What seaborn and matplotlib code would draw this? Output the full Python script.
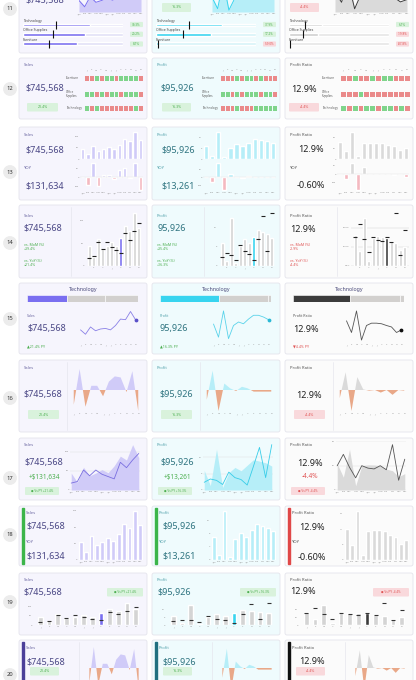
import numpy as np
import pandas as pd
import matplotlib.pyplot as plt
import seaborn as sns
from matplotlib.patches import FancyBboxPatch, Circle, Rectangle
from matplotlib.colors import ListedColormap

# ---- data ----
months = ['Jan', 'Feb', 'Mar', 'Apr', 'May', 'Jun', 'Jul', 'Aug', 'Sep', 'Oct', 'Nov', 'Dec']
letters = ['J', 'F', 'M', 'A', 'M', 'J', 'J', 'A', 'S', 'O', 'N', 'D']
categories = ['Technology', 'Office Supplies', 'Furniture']
hm_rows = ['Furniture', 'Office\nSupplies', 'Technology']
measures = ['Sales', 'Profit', 'Profit Ratio']

value_txt = ['$745,568', '$95,926', '12.9%']
value_plain = ['$745,568', '95,926', '12.9%']
yoy_txt = ['$131,634', '$13,261', '-0.60%']
diff_txt = ['+$131,634', '+$13,261', '-4.4%']
pct_txt = ['21.4%', '16.3%', '-4.4%']
pct_signed = ['+21.4%', '+16.3%', '-4.4%']
mom_txt = ['+39.4%', '+35.4%', '-2.9%']
is_up = [True, True, False]

sales_cy = [44, 20, 59, 37, 44, 53, 45, 63, 88, 78, 118, 84]
sales_py = [18, 22, 52, 37, 52, 41, 35, 29, 72, 58, 78, 95]
profit_cy = [7.1, 1.6, 14.8, 0.9, 6.3, 8.2, 7.0, 9.0, 11.0, 10.5, 9.9, 8.7]
profit_py = [2.8, 4.0, 3.5, 2.0, 6.5, 4.5, 3.8, 1.8, 8.5, 15.5, 4.5, 16.5]
ratio_cy = [16.2, 7.9, 25.1, 2.6, 14.9, 15.5, 15.4, 14.8, 12.9, 11.9, 8.2, 10.1]
ratio_py = [15.0, 22.0, 14.0, 7.5, 15.0, 13.5, 13.0, 15.0, 12.5, 28.0, 6.0, 19.0]

sales_yoy = [0, -22, 40, -25, 8, 8, -4, 22, 28, -3, 40, -35]
profit_yoy = [0, -15, 43, -37, 12, 3, -2, 4, 2, 1, 0, 1]
ratio_yoy = [0, -15, 32, -45, 20, 1, 1, 1, 0, -3, 0, -8]

sales_diff = [-0.7, 1.0, -0.8, 0.2, 0.2, -0.3, 0.4, 0.65, 0.6, -0.1, 0.9, -1.0]
profit_diff = [-0.3, 0.6, -0.65, 0.2, 0.05, -0.03, 0.1, 0.05, -0.05, -0.05, -0.05, -0.05]
ratio_diff = [-0.25, 0.55, -0.65, 0.4, 0.02, -0.02, 0.0, -0.08, 0.0, -0.15, 0.0, -0.02]

sales_tech = [0.35, 0.2, 0.45, 0.32, 0.38, 0.4, 0.35, 0.5, 0.72, 0.7, 0.98, 0.7]
profit_tech = [0.55, 0.1, 1.0, 0.05, 0.5, 0.62, 0.56, 0.72, 0.85, 0.85, 0.79, 0.7]
ratio_tech = [0.66, 0.26, 1.0, 0.0, 0.5, 0.58, 0.58, 0.56, 0.5, 0.45, 0.26, 0.35]
tech_share = [[0.36, 0.34, 0.30], [0.53, 0.44, 0.03], [0.51, 0.45, 0.04]]

cat_cy = [[0.67, 0.62, 0.54], [0.66, 0.55, 0.02], [0.33, 0.29, 0.01]]
cat_py = [[0.33, 0.30, 0.26], [0.33, 0.27, 0.02], [0.16, 0.14, 0.01]]
cat_pct = [['30.3%', '20.2%', '8.1%'], ['37.9%', '17.2%', '-59.0%'], ['6.1%', '-19.8%', '-87.8%']]

hm_sales = [[0, 0, 1, 0, 1, 1, 0, 1, 1, 1, 1, 0],
            [1, 1, 0, 1, 0, 1, 1, 0, 1, 1, 1, 0],
            [1, 0, 1, 0, 0, 0, 0, 0, 0, 0, 1, 0]]
hm_profit = [[0, 0, 0, 1, 0, 1, 1, 0, 1, 0, 0, 0],
             [1, 1, 0, 1, 0, 1, 1, 1, 0, 1, 1, 0],
             [0, 0, 0, 1, 0, 0, 0, 1, 1, 1, 1, 1]]
hm_ratio = [[0, 0, 1, 0, 0, 1, 0, 1, 1, 0, 0, 0],
            [0, 0, 0, 1, 0, 0, 0, 0, 0, 0, 0, 0],
            [1, 0, 1, 0, 1, 1, 0, 1, 1, 0, 1, 0]]

cy = [sales_cy, profit_cy, ratio_cy]
py = [sales_py, profit_py, ratio_py]
yoy = [sales_yoy, profit_yoy, ratio_yoy]
diffs = [sales_diff, profit_diff, ratio_diff]
tech = [sales_tech, profit_tech, ratio_tech]
hms = [hm_sales, hm_profit, hm_ratio]

# ---- styling ----
W, H = 416, 680
CX = [19, 152, 285]
CW = 128
BGC = ['#f6f5fd', '#effbfd', '#fbfbfb']
MAIN = ['#7a6ff0', '#38d4ef', '#3c3c3c']
LIGHT = ['#d0cbf8', '#b6eef8', '#dadada']
LINE = ['#8a80e6', '#5ad3ea', '#555555']
VALC = ['#4a4785', '#2f7480', '#222222']
TITC = ['#6d69a3', '#55a3ad', '#555555']
STRIP18 = ['#3cb54a', '#3cb54a', '#e04848']
STRIP20 = ['#4b3f99', '#1f6f7f', '#111111']
GREEN_T, RED_T = '#4caf50', '#e05555'
GREEN_BG, RED_BG = '#d9f2dc', '#f9d9dc'
GREY = '#d4d4d4'
NEG_BAR = '#f4b9c0'
NEG_AREA = '#e9a888'

sns.set_theme(style='white')
plt.rcParams['font.family'] = ['Noto Sans', 'DejaVu Sans']

fig = plt.figure(figsize=(4.16, 6.8), dpi=100)
fig.patch.set_facecolor('white')
bg = fig.add_axes([0, 0, 1, 1])
bg.set_xlim(0, W)
bg.set_ylim(H, 0)
bg.axis('off')


def sub(x, y, w, h):
    return fig.add_axes([x / W, 1 - (y + h) / H, w / W, h / H])


def clean(ax):
    ax.set_facecolor('none')
    for s in ax.spines.values():
        s.set_visible(False)
    ax.tick_params(length=0, labelsize=1.7, colors='#8a8a8a', pad=0.8)
    ax.set_xlabel('')
    ax.set_ylabel('')


def card(x, y, w, h, fc):
    bg.add_patch(FancyBboxPatch((x, y), w, h, boxstyle='round,pad=0,rounding_size=2',
                                fc=fc, ec='#e4e4ec', lw=0.6))


def pill(x, y, w, h, text, good, fs=2.6):
    bg.add_patch(FancyBboxPatch((x, y), w, h, boxstyle='round,pad=0,rounding_size=1',
                                fc=GREEN_BG if good else RED_BG, ec='none'))
    bg.text(x + w / 2, y + h / 2, text, ha='center', va='center', fontsize=fs,
            color=GREEN_T if good else RED_T)


def month_bars(ax, vals, base, hl=None, hl_col=None, width=0.7):
    pal = {m: base for m in months}
    if hl is not None:
        pal[months[hl]] = hl_col
    sns.barplot(x=months, y=vals, hue=months, palette=pal, legend=False, ax=ax,
                width=width, saturation=1)


def title(x, y, t, i, fs=3):
    bg.text(x, y, t, ha='left', va='center', fontsize=fs, color=TITC[i])


ROWS = [(11, -25, 53, 9), (12, 58, 119, 89), (13, 127, 200, 172), (14, 205, 278, 243),
        (15, 283, 354, 319), (16, 360, 432, 398), (17, 438, 500, 478), (18, 506, 566, 535),
        (19, 573, 635, 602), (20, 640, 705, 675)]

for n, top, bot, yc in ROWS:
    bg.add_patch(Circle((10, yc), 6.2, color='#ececec'))
    bg.text(10, yc, str(n), ha='center', va='center', fontsize=4.2, weight='bold', color='#333')
    for i in range(3):
        card(CX[i], top, CW, bot - top, BGC[i])

xs = np.arange(12)

for i in range(3):
    x0 = CX[i]
    up = is_up[i]

    # ---- row 11: trend + category bullets ----
    l = [60, 60, 50][i]
    ax = sub(x0 + l, -22, 122 - l, 34)
    ax.fill_between(xs, cy[i], color=LIGHT[i], lw=0)
    sns.lineplot(x=xs, y=cy[i], ax=ax, color=MAIN[i], lw=0.7)
    ax.set_xlim(0, 11)
    ax.set_ylim(0, max(cy[i]) * 1.1)
    ax.set_xticks(xs)
    ax.set_xticklabels(months)
    ax.set_yticks([])
    clean(ax)
    if i == 0:
        bg.text(x0 + 26, 0, value_txt[i], ha='center', va='center', fontsize=6.5, color=VALC[i])
    else:
        pl = [0, 10, 5][i]
        pill(x0 + pl, 3, 29, 9, pct_txt[i], up)

    bx = sub(x0 + 4, 19.6, 100, 29.25)
    track = ['#e2e0f7', '#d6f3f8', '#e6e6e6'][i]
    fillc = [MAIN[0], MAIN[1], '#cfcfcf'][i]
    sns.barplot(x=[1, 1, 1], y=categories, color=track, width=0.28, ax=bx, orient='h', saturation=1)
    sns.barplot(x=cat_cy[i], y=categories, color=fillc, width=0.28, ax=bx, orient='h', saturation=1)
    bx.vlines(cat_py[i], np.arange(3) - 0.42, np.arange(3) + 0.42, color='#111', lw=0.8)
    for j, cat in enumerate(categories):
        bx.text(0, j - 0.2, cat, fontsize=2.5, va='bottom', ha='left', color='#444')
    bx.set_xlim(0, 1)
    bx.set_xticks([])
    bx.set_yticks([])
    clean(bx)
    for j, yy in enumerate([24.5, 34.25, 44]):
        pill(x0 + 111, yy - 2.6, 13, 5.2, cat_pct[i][j], not cat_pct[i][j].startswith('-'), fs=2.2)

    # ---- row 12: heatmap ----
    title(x0 + 5, 65, measures[i], i)
    vc = [26, 25.5, 18.5][i]
    bg.text(x0 + vc, 89, value_txt[i], ha='center', va='center', fontsize=6.5, color=VALC[i])
    pl, pr = [(8, 39), (10, 39), (4, 34)][i]
    pill(x0 + pl, 103, pr - pl, 8.5, pct_txt[i], up)
    hl0, hl1 = [(65, 124), (68, 125), (55, 125)][i]
    for j, yy in enumerate([78, 94, 108]):
        hx = sub(x0 + hl0, yy - 2.6, hl1 - hl0, 5.2)
        sns.heatmap([hms[i][j]], ax=hx, cmap=ListedColormap(['#ea8a8a', '#7fd48b']), vmin=0, vmax=1,
                    cbar=False, linewidths=0.45, linecolor=BGC[i], xticklabels=False, yticklabels=False)
        bg.text(x0 + hl0 - 18, yy, hm_rows[j], ha='left', va='center', fontsize=2.1, color='#555',
                linespacing=1.0)
    step = (hl1 - hl0) / 12
    for k, t in enumerate(letters):
        bg.text(x0 + hl0 + step * (k + 0.5), 70, t, ha='center', va='center', fontsize=1.8, color='#888')

    # ---- row 13: bars + yoy bars ----
    title(x0 + 5, 135, measures[i], i)
    bg.text(x0 + 26, 150, value_txt[i], ha='center', va='center', fontsize=6.5, color=VALC[i])
    title(x0 + 5, 168, 'YOY', i)
    bg.text(x0 + 26, 186, yoy_txt[i], ha='center', va='center', fontsize=6.5, color=VALC[i])
    l = [61, 51, 52][i]
    ax = sub(x0 + l, 131, 124 - l, 28)
    month_bars(ax, cy[i], LIGHT[i])
    ax.set_xticks([])
    ax.set_ylim(0, max(cy[i]) * 1.05)
    ax.yaxis.set_major_locator(plt.MaxNLocator(3))
    clean(ax)
    ax2 = sub(x0 + l, 162, 124 - l, 29)
    pal = {m: (LIGHT[i] if v >= 0 else NEG_BAR) for m, v in zip(months, yoy[i])}
    sns.barplot(x=months, y=yoy[i], hue=months, palette=pal, legend=False, ax=ax2, width=0.7, saturation=1)
    ax2.axhline(0, color='#e2e2e2', lw=0.3)
    ax2.set_xticks(xs)
    ax2.set_xticklabels(months)
    ax2.yaxis.set_major_locator(plt.MaxNLocator(4))
    clean(ax2)

    # ---- row 14: bars with PY marks ----
    title(x0 + 5, 216, measures[i], i)
    bg.text(x0 + 5, 229, value_plain[i], ha='left', va='center', fontsize=6.5, color=VALC[i])
    mc = GREEN_T if mom_txt[i].startswith('+') else RED_T
    yc_ = GREEN_T if up else RED_T
    bg.text(x0 + 5, 245, 'vs. MoM (%)', ha='left', va='center', fontsize=2.6, color=mc)
    bg.text(x0 + 5, 249.5, mom_txt[i], ha='left', va='center', fontsize=2.6, color=mc)
    bg.text(x0 + 5, 261, 'vs. YoY (%)', ha='left', va='center', fontsize=2.6, color=yc_)
    bg.text(x0 + 5, 265.5, pct_signed[i], ha='left', va='center', fontsize=2.6, color=yc_)
    bg.plot([x0 + 52, x0 + 52], [207, 276], color='#e6e6ee', lw=0.5)
    ax = sub(x0 + 66, 210, 58, 56)
    month_bars(ax, cy[i], GREY, hl=7, hl_col=MAIN[i])
    ax.scatter(xs, py[i], marker='_', s=5, color='#222', linewidths=0.8, zorder=5)
    ax.set_ylim(0, max(max(cy[i]), max(py[i])) * 1.05)
    ax.set_xticks(xs[1::2])
    ax.set_xticklabels(letters[1::2])
    if i == 2:
        ax.set_yticks([0, 10, 20])
        ax.set_yticklabels(['0.0%', '10.0%', '20.0%'])
        ax.yaxis.grid(True, color='#cccccc', lw=0.3)
    else:
        ax.yaxis.set_major_locator(plt.MaxNLocator(3))
    clean(ax)

    # ---- row 15: technology share + sparkline ----
    bg.text(x0 + 64, 290, 'Technology', ha='center', va='center', fontsize=3.8, color='#4a4a7a',
            weight='bold')
    sx = sub(x0 + 8, 295, 111, 7)
    left = 0
    for k, v in enumerate(tech_share[i]):
        sx.barh(0, v, left=left, color=MAIN[i] if k == 0 else '#d2d0ce', edgecolor='white', lw=0.4,
                height=1)
        left += v
    sx.set_xlim(0, 1)
    sx.set_ylim(-0.5, 0.5)
    sx.set_xticks([])
    sx.set_yticks([])
    clean(sx)
    title(x0 + 8, 316, measures[i], i, fs=2.6)
    bg.text(x0 + 8, 329, value_plain[i], ha='left', va='center', fontsize=6.5, color=VALC[i])
    arrow = '▲' if up else '▼'
    bg.text(x0 + 8, 346, arrow + pct_txt[i].lstrip('-') + ' PY', ha='left', va='center', fontsize=2.6,
            color=GREEN_T if up else RED_T)
    ax = sub(x0 + 59, 308, 60, 35)
    sns.lineplot(x=xs, y=tech[i], ax=ax, color=LINE[i], lw=0.6)
    ax.scatter([11], [tech[i][-1]], s=3, color=['#5a4fc9', '#2bb9d6', '#111'][i], zorder=5)
    ax.set_xlim(-0.5, 11.5)
    ax.set_ylim(-0.1, 1.1)
    ax.set_xticks(xs)
    ax.set_xticklabels(letters)
    ax.set_yticks([])
    clean(ax)

    # ---- row 16 and 20: diverging area ----
    for strip in [None, STRIP20[i]]:
        if strip is None:
            title(x0 + 5, 368, measures[i], i)
            bg.plot([x0 + 48, x0 + 48], [362, 430], color='#e6e6ee', lw=0.5)
            bg.text(x0 + 24, 395, value_txt[i], ha='center', va='center', fontsize=6.5, color=VALC[i])
            pill(x0 + 9, 410, 31, 9, pct_txt[i], up)
            ax = sub(x0 + 53, 368, 68, 44)
        else:
            bg.add_patch(Rectangle((x0 + 3, 642), 1.6, 60, color=strip))
            title(x0 + 7, 648, measures[i], i)
            bg.plot([x0 + 60, x0 + 60], [642, 700], color='#e6e6ee', lw=0.5)
            bg.text(x0 + 27, 662, value_txt[i], ha='center', va='center', fontsize=6.5, color=VALC[i])
            pill(x0 + 11, 667, 29, 8.5, pct_txt[i], up)
            ax = sub(x0 + 69, 646, 52, 44)
        d = np.array(diffs[i])
        ax.fill_between(xs, d, 0, where=d >= 0, interpolate=True, color=LIGHT[i], lw=0)
        ax.fill_between(xs, d, 0, where=d <= 0, interpolate=True, color=NEG_AREA, lw=0)
        m = np.abs(d).max() * 1.05
        ax.set_ylim(-m, m)
        ax.set_xlim(-0.3, 11.3)
        if strip is None:
            ax.set_xticks(xs)
            ax.set_xticklabels(letters)
        else:
            ax.set_xticks([])
        ax.set_yticks([])
        clean(ax)

    # ---- row 17: area vs PY line ----
    title(x0 + 5, 445, measures[i], i)
    bg.text(x0 + 25, 463, value_txt[i], ha='center', va='center', fontsize=6.5, color=VALC[i])
    bg.text(x0 + 25, 477, diff_txt[i], ha='center', va='center', fontsize=4.6,
            color=GREEN_T if up else RED_T)
    pill(x0 + 6, 487, 34, 8, ('● Vs PY ' + pct_signed[i]), up, fs=2.2)
    ax = sub(x0 + 51, 441, 70, 49)
    ax.fill_between(xs, cy[i], color=LIGHT[i], lw=0)
    sns.lineplot(x=xs, y=py[i], ax=ax, color=['#7a6fe0', '#38cde8', '#555'][i], lw=0.6)
    ax.set_xlim(-0.2, 11.2)
    ax.set_ylim(0, max(max(cy[i]), max(py[i])) * 1.08)
    ax.yaxis.set_major_locator(plt.MaxNLocator(3))
    ax.yaxis.grid(True, color='#dddddd', lw=0.3)
    ax.set_xticks(xs)
    ax.set_xticklabels(months)
    clean(ax)

    # ---- row 18: strip + bars ----
    bg.add_patch(Rectangle((x0 + 3, 508), 1.6, 56, color=STRIP18[i]))
    title(x0 + 7, 513, measures[i], i)
    bg.text(x0 + 27, 527, value_txt[i], ha='center', va='center', fontsize=6.5, color=VALC[i])
    title(x0 + 7, 542, 'YOY', i)
    bg.text(x0 + 27, 557, yoy_txt[i], ha='center', va='center', fontsize=6.5, color=VALC[i])
    ax = sub(x0 + 59, 509, 65, 51)
    month_bars(ax, cy[i], LIGHT[i])
    ax.set_ylim(0, max(cy[i]) * 1.05)
    ax.yaxis.set_major_locator(plt.MaxNLocator(4))
    ax.set_xticks(xs)
    ax.set_xticklabels(months)
    clean(ax)

    # ---- row 19: bars with PY marks, pill top right ----
    title(x0 + 5, 580, measures[i], i)
    bg.text(x0 + 5, 592, value_plain[i] if i != 1 else value_txt[i], ha='left', va='center',
            fontsize=6.5, color=VALC[i])
    pill(x0 + 88, 588, 36, 8.5, '● Vs PY ' + pct_signed[i], up, fs=2.2)
    ax = sub(x0 + 14, 602, 110, 23)
    month_bars(ax, cy[i], GREY, hl=7, hl_col=MAIN[i], width=0.55)
    ax.scatter(xs, py[i], marker='_', s=9, color='#333', linewidths=0.8, zorder=5)
    ax.set_ylim(0, max(max(cy[i]), max(py[i])) * 1.05)
    ax.yaxis.set_major_locator(plt.MaxNLocator(3))
    ax.set_xticks(xs)
    ax.set_xticklabels(letters)
    clean(ax)

fig.savefig('out.png', dpi=100)
